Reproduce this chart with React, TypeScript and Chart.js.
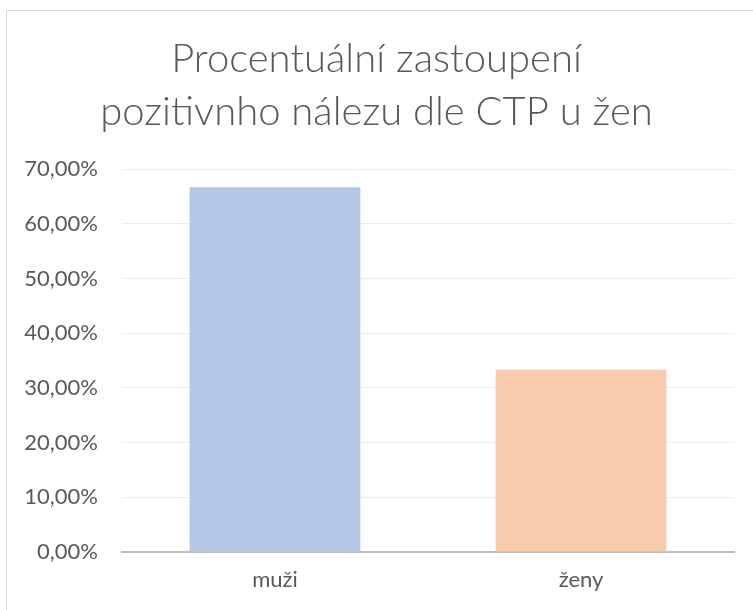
import React, { useEffect, useRef } from "react";
import { Chart, registerables } from "chart.js";

Chart.register(...registerables);

const categories = ["muži", "ženy"];
const values = [66.67, 33.33];
const barColors = ["#b4c7e7", "#f8cbad"];
const titleLines = ["Procentuální zastoupení", "pozitivnho nálezu dle CTP u žen"];
const yMin = 0;
const yMax = 70;
const yStep = 10;

const FONT = "Lato, 'Open Sans', sans-serif";

export default function App() {
  const ref = useRef<HTMLCanvasElement | null>(null);

  useEffect(() => {
    if (!ref.current) return;
    const chart = new Chart(ref.current, {
      type: "bar",
      data: {
        labels: categories,
        datasets: [
          {
            data: values,
            backgroundColor: barColors,
            borderWidth: 0,
            categoryPercentage: 1,
            barPercentage: 0.558,
          },
        ],
      },
      options: {
        responsive: false,
        animation: false,
        layout: { padding: 0 },
        plugins: {
          legend: { display: false },
          tooltip: { enabled: false },
          title: {
            display: true,
            text: titleLines,
            color: "#595959",
            font: { family: FONT, size: 40, weight: "300" as any, lineHeight: 1.325 },
            padding: { top: 33, bottom: 30 },
          },
        },
        scales: {
          x: {
            grid: { display: false, drawTicks: false },
            border: { display: true, color: "#bfbfbf", width: 2 },
            ticks: {
              color: "#595959",
              font: { family: FONT, size: 22 },
              padding: 15,
            },
            afterFit: (scale: any) => {
              scale.height = 58;
            },
          },
          y: {
            min: yMin,
            max: yMax,
            grid: { color: "#ececec", lineWidth: 1, drawTicks: false },
            border: { display: false },
            ticks: {
              stepSize: yStep,
              color: "#595959",
              font: { family: FONT, size: 22 },
              padding: 24,
              callback: (v: any) => Number(v).toFixed(2).replace(".", ",") + "%",
            },
            afterFit: (scale: any) => {
              scale.width = 122;
            },
          },
          yRight: {
            position: "right",
            display: true,
            grid: { display: false, drawTicks: false },
            border: { display: false },
            ticks: { display: false },
            afterFit: (scale: any) => {
              scale.width = 19;
            },
          },
        },
      },
    });
    return () => chart.destroy();
  }, []);

  return (
    <div>
      <div
        style={{
          position: "fixed",
          left: 6,
          top: 10,
          width: 760,
          height: 620,
          borderTop: "1px solid #d9d9d9",
          borderLeft: "1px solid #d9d9d9",
          boxSizing: "border-box",
        }}
      />
      <canvas
        ref={ref}
        width={753}
        height={610}
        style={{ position: "fixed", left: 0, top: 0, display: "block" }}
      />
    </div>
  );
}
